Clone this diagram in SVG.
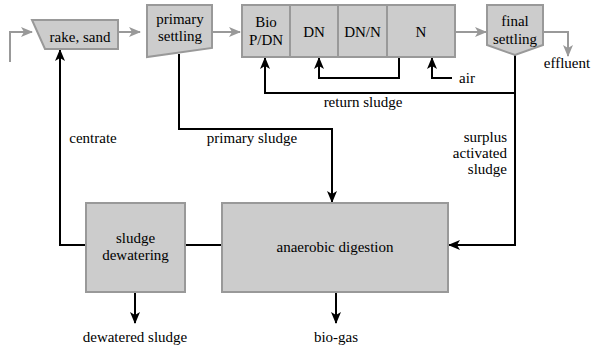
<svg xmlns="http://www.w3.org/2000/svg" width="592" height="349" viewBox="0 0 592 349">
<style>
.box{fill:#cccccc;stroke:#999999;stroke-width:2}
.g{fill:none;stroke:#999999;stroke-width:2}
.k{fill:none;stroke:#000000;stroke-width:2}
text{font-size:15px;fill:#000000;text-anchor:middle}
.r{text-anchor:end}
</style>
<defs>
<marker id="ag" markerWidth="12" markerHeight="12" viewBox="0 0 12 12" refX="11" refY="6" orient="auto" markerUnits="userSpaceOnUse">
<path d="M0,1 L12,6 L0,11 L3,6 Z" fill="#999999"/>
</marker>
<marker id="ak" markerWidth="12" markerHeight="12" viewBox="0 0 12 12" refX="11" refY="6" orient="auto" markerUnits="userSpaceOnUse">
<path d="M0,1 L12,6 L0,11 L3,6 Z" fill="#000000"/>
</marker>
</defs>
<g id="connectors">
<path class="g" d="M10,62 V32 H32" marker-end="url(#ag)"/>
<path class="g" d="M118,32 H140" marker-end="url(#ag)"/>
<path class="g" d="M212,32 H240" marker-end="url(#ag)"/>
<path class="g" d="M455,32 H486" marker-end="url(#ag)"/>
<path class="g" d="M543,32 H568 V56" marker-end="url(#ag)"/>
<path class="k" d="M515,55 V93 H265 V58" marker-end="url(#ak)"/>
<path class="k" d="M399,57 V78 H319 V58" marker-end="url(#ak)"/>
<path class="k" d="M452,78 H432 V58" marker-end="url(#ak)"/>
<path class="k" d="M179,54 V129 H332 V202" marker-end="url(#ak)"/>
<path class="k" d="M515,93 V245 H449" marker-end="url(#ak)"/>
<path class="k" d="M185,245 H222"/>
<path class="k" d="M86,245 H60 V50" marker-end="url(#ak)"/>
<path class="k" d="M135,292 V323" marker-end="url(#ak)"/>
<path class="k" d="M336,292 V323" marker-end="url(#ak)"/>
</g>
<g font-family="'Liberation Serif', 'DejaVu Serif', serif">
<g id="rake">
<polygon class="box" points="32,20 118,20 118,49 45,49"/>
<text x="80" y="42">rake, sand</text>
</g>
<g id="primary">
<polygon class="box" points="147,5 212,5 212,48 147,57"/>
<text x="180" y="24">primary</text>
<text x="180" y="41">settling</text>
</g>
<g id="biopdn">
<rect class="box" x="242" y="5" width="48" height="52"/>
<text x="266" y="27">Bio</text>
<text x="266" y="45">P/DN</text>
</g>
<g id="dn">
<rect class="box" x="290" y="5" width="48" height="52"/>
<text x="314" y="37">DN</text>
</g>
<g id="dnn">
<rect class="box" x="338" y="5" width="49" height="52"/>
<text x="362.5" y="37">DN/N</text>
</g>
<g id="n">
<rect class="box" x="387" y="5" width="68" height="52"/>
<text x="421" y="37">N</text>
</g>
<g id="final">
<polygon class="box" points="487,5 543,5 543,45 515,55 487,45"/>
<text x="515" y="26">final</text>
<text x="515" y="44">settling</text>
</g>
<g id="dewatering">
<rect class="box" x="86" y="203" width="99" height="89"/>
<text x="135.5" y="243">sludge</text>
<text x="135.5" y="260">dewatering</text>
</g>
<g id="digestion">
<rect class="box" x="222" y="203" width="226" height="89"/>
<text x="335" y="252">anaerobic digestion</text>
</g>
<g id="labels">
<text x="567" y="68">effluent</text>
<text x="467" y="83">air</text>
<text x="363" y="107">return sludge</text>
<text x="252" y="143">primary sludge</text>
<text x="93" y="143">centrate</text>
<text class="r" x="507" y="142">surplus</text>
<text class="r" x="507" y="158">activated</text>
<text class="r" x="507" y="174">sludge</text>
<text x="135" y="342">dewatered sludge</text>
<text x="336" y="342">bio-gas</text>
</g>
</g>
</svg>
